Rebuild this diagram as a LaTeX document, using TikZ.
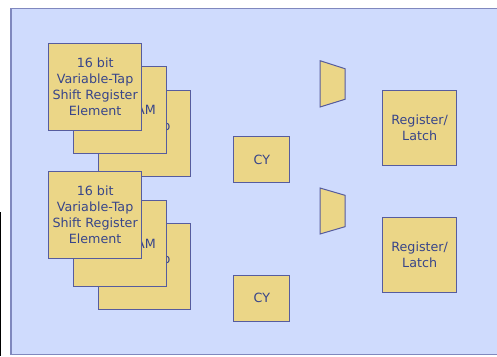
\documentclass[tikz,border=0pt]{standalone}
\usepackage{fontspec}
\setmainfont{DejaVu Sans}
\definecolor{panelfill}{HTML}{CFDBFD}
\definecolor{panelline}{HTML}{8088BE}
\definecolor{blockfill}{HTML}{EBD687}
\definecolor{blockline}{HTML}{565C9E}
\definecolor{blocktext}{HTML}{38458A}
\tikzset{
  block/.style={draw=blockline, fill=blockfill, line width=1pt, anchor=north west,
    inner sep=0pt, align=center, text=blocktext,
    font=\fontsize{12.7}{16}\selectfont},
  lutblock/.style={block, minimum width=92.7pt, minimum height=86.5pt},
  cyblock/.style={block, minimum width=56pt, minimum height=46.3pt},
  regblock/.style={block, minimum width=74.3pt, minimum height=75.5pt},
  muxshape/.style={draw=blockline, fill=blockfill, line width=1pt, line join=miter}
}
\begin{document}
\begin{tikzpicture}[x=1pt, y=-1pt]
  \useasboundingbox (0,0) rectangle (497,356);
  % panel
  \fill[white] (0,0) rectangle (497,356);
  \draw[panelline, fill=panelfill, line width=1.2pt] (11,8.3) rectangle (510,354.7);
  \draw[black, line width=1.4pt] (0.7,212.3) -- (0.7,356);

  % upper LUT stack (back to front)
  \node[lutblock] (lutA) at (97.7,89.7) {Look-Up\\Table};
  \node[lutblock] (ramA) at (73,66.3) {16 x 1 RAM};
  \node[lutblock] (srlA) at (48.3,43.3) {16 bit\\Variable-Tap\\Shift Register\\Element};

  % lower LUT stack (back to front)
  \node[lutblock] (lutB) at (97.7,222.7) {Look-Up\\Table};
  \node[lutblock] (ramB) at (73,199.7) {16 x 1 RAM};
  \node[lutblock] (srlB) at (48.3,171) {16 bit\\Variable-Tap\\Shift Register\\Element};

  % carry logic
  \node[cyblock] (cyA) at (233.3,136) {CY};
  \node[cyblock] (cyB) at (233.3,274.7) {CY};

  % multiplexers
  \draw[muxshape] (320,60.7) -- (345,68.7) -- (345,99.3) -- (320,107) -- cycle;
  \draw[muxshape] (320,188) -- (345,195.3) -- (345,226.7) -- (320,234) -- cycle;

  % storage elements
  \node[regblock] (regA) at (382,89.7) {Register/\\Latch};
  \node[regblock] (regB) at (382,216.7) {Register/\\Latch};
\end{tikzpicture}
\end{document}
